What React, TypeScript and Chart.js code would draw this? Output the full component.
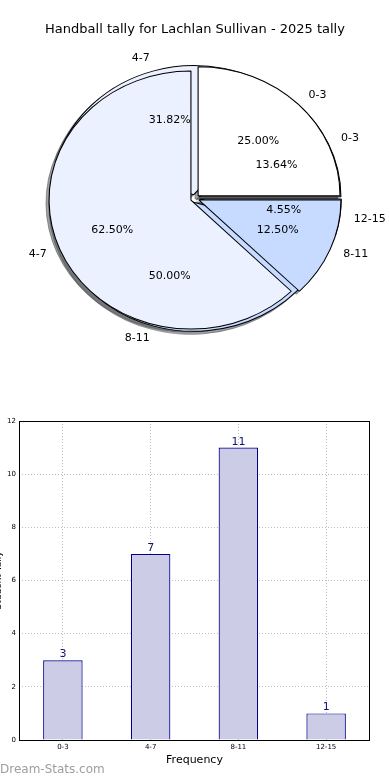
import React, { useEffect, useRef } from 'react';
import { Chart, registerables } from 'chart.js';

Chart.register(...registerables);

// ---------- data ----------
const TITLE = 'Handball tally for Lachlan Sullivan - 2025 tally';
const CATEGORIES = ['0-3', '4-7', '8-11', '12-15'];
const TALLY = [3, 7, 11, 1];
const SECOND_LABELS = ['0-3', '4-7', '8-11'];
const SECOND_PCT = [25.0, 62.5, 12.5];
const SLICE_COLORS = ['#ffffff', '#ebf1ff', '#c6dbff', '#a4c4ff'];
const Y_TICK_MAX = 12;
const Y_TICK_STEP = 2;
const X_TITLE = 'Frequency';
const Y_TITLE = 'Student Tally';
const WATERMARK = 'Dream-Stats.com';

// ---------- style ----------
const FONT = "'DejaVu Sans', sans-serif";
const SX = 1.1; // horizontal stretch of the pie (ellipse)
const RADIUS = 129;
const EXPLODE = 4;
const FAR = 3000;

const rev = <T,>(a: T[]) => a.slice().reverse();

function ellipseTransform(ctx: CanvasRenderingContext2D, el: any) {
  ctx.translate(el.x, el.y);
  ctx.scale(SX, 1);
  ctx.translate(-el.x, -el.y);
}

function drawShadows(ctx: CanvasRenderingContext2D, chart: any) {
  const meta = chart.getDatasetMeta(0);
  meta.data.forEach((el: any) => {
    const mid = (el.startAngle + el.endAngle) / 2;
    ctx.save();
    ctx.translate(-FAR, 0);
    ellipseTransform(ctx, el);
    ctx.translate(Math.cos(mid) * EXPLODE, Math.sin(mid) * EXPLODE);
    ctx.shadowColor = 'rgba(72,74,77,0.5)';
    ctx.shadowOffsetX = FAR - 3;
    ctx.shadowOffsetY = 3;
    ctx.shadowBlur = 0;
    el.draw(ctx);
    ctx.restore();
  });
}

function makePiePlugin(shadowCharts: () => any[]) {
  return {
    id: 'ellipsePie',
    beforeDatasetsDraw(chart: any) {
      shadowCharts().forEach((c) => c && drawShadows(chart.ctx, c));
    },
    beforeDatasetDraw(chart: any, args: any) {
      const ctx = chart.ctx;
      args.meta.data.forEach((el: any) => {
        const mid = (el.startAngle + el.endAngle) / 2;
        ctx.save();
        ellipseTransform(ctx, el);
        ctx.translate(Math.cos(mid) * EXPLODE, Math.sin(mid) * EXPLODE);
        el.draw(ctx);
        ctx.restore();
      });
      return false;
    },
  };
}

function drawPieLabels(ctx: CanvasRenderingContext2D, chart: any) {
  const meta = chart.getDatasetMeta(0);
  const values: number[] = chart.data.datasets[0].data;
  const labels: string[] = chart.data.labels;
  const total = values.reduce((a, b) => a + b, 0);
  ctx.save();
  ctx.font = `11px ${FONT}`;
  ctx.fillStyle = '#000';
  ctx.textBaseline = 'middle';
  meta.data.forEach((el: any, i: number) => {
    const mid = (el.startAngle + el.endAngle) / 2;
    const r = el.outerRadius;
    const c = Math.cos(mid);
    const s = Math.sin(mid);
    const lr = 1.1 * r + EXPLODE;
    ctx.textAlign = c > 0 ? 'left' : 'right';
    ctx.fillText(labels[i], el.x + SX * c * lr, el.y + s * lr);
    const pr = 0.6 * r + EXPLODE;
    ctx.textAlign = 'center';
    ctx.fillText(((values[i] / total) * 100).toFixed(2) + '%', el.x + SX * c * pr, el.y + s * pr);
  });
  ctx.restore();
}

function pieConfig(labels: string[], values: number[], colors: string[], extra: any, plugins: any[]) {
  return {
    type: 'pie',
    data: {
      labels: rev(labels),
      datasets: [
        {
          data: rev(values),
          backgroundColor: rev(colors),
          borderColor: '#000',
          borderWidth: 1,
          radius: RADIUS,
          rotation: 90,
        },
      ],
    },
    options: {
      responsive: false,
      animation: false,
      events: [],
      radius: RADIUS,
      rotation: 90,
      ...extra,
    },
    plugins,
  } as any;
}

export default function App() {
  const pieBackRef = useRef<HTMLCanvasElement>(null);
  const pieFrontRef = useRef<HTMLCanvasElement>(null);
  const barRef = useRef<HTMLCanvasElement>(null);

  useEffect(() => {
    let front: any = null;
    let back: any = null;

    back = new Chart(
      pieBackRef.current!,
      pieConfig(CATEGORIES, TALLY, SLICE_COLORS, {
        layout: { padding: { top: 0, bottom: 3, left: 0, right: 0 } },
        plugins: { legend: { display: false }, tooltip: { enabled: false }, title: { display: false } },
      }, [makePiePlugin(() => [back, front])])
    );

    const labelPlugin = {
      id: 'pieLabels',
      afterDraw(chart: any) {
        if (back) drawPieLabels(chart.ctx, back);
        drawPieLabels(chart.ctx, chart);
      },
    };

    front = new Chart(
      pieFrontRef.current!,
      pieConfig(SECOND_LABELS, SECOND_PCT, SLICE_COLORS.slice(0, 3), {
        layout: { padding: { top: 0, bottom: 40.6, left: 0, right: 0 } },
        plugins: {
          legend: { display: false },
          tooltip: { enabled: false },
          title: {
            display: true,
            text: TITLE,
            color: '#000',
            font: { family: FONT, size: 13, weight: 'normal' },
            padding: { top: 22, bottom: 0 },
          },
        },
      }, [makePiePlugin(() => []), labelPlugin])
    );
    back.draw();

    const barPlugin = {
      id: 'barExtras',
      afterDraw(chart: any) {
        const ctx = chart.ctx;
        const a = chart.chartArea;
        ctx.save();
        ctx.strokeStyle = '#000';
        ctx.lineWidth = 1;
        ctx.strokeRect(Math.round(a.left) + 0.5, Math.round(a.top) + 0.5, Math.round(a.right - a.left) - 1, Math.round(a.bottom - a.top));
        const meta = chart.getDatasetMeta(0);
        const vals: number[] = chart.data.datasets[0].data;
        ctx.font = `11px ${FONT}`;
        ctx.fillStyle = '#10107a';
        ctx.textAlign = 'center';
        ctx.textBaseline = 'alphabetic';
        meta.data.forEach((el: any, i: number) => {
          ctx.fillText(String(vals[i]), el.x, el.y - 3);
        });
        ctx.font = `12px ${FONT}`;
        ctx.fillStyle = '#9e9e9e';
        ctx.textAlign = 'left';
        ctx.textBaseline = 'middle';
        ctx.fillText(WATERMARK, 0, 370);
        ctx.restore();
      },
    };

    const grid = { color: '#bdbdbd', lineWidth: 1, drawTicks: false };
    const bar = new Chart(barRef.current!, {
      type: 'bar',
      data: {
        labels: CATEGORIES,
        datasets: [
          {
            data: TALLY,
            backgroundColor: '#ccccE6',
            borderColor: '#00008b',
            borderWidth: 1.2,
            barPercentage: 0.45,
            categoryPercentage: 1,
          },
        ],
      },
      options: {
        responsive: false,
        animation: false,
        events: [],
        layout: { padding: { left: 0, right: 20, top: 21, bottom: 0 } },
        scales: {
          x: {
            grid: { ...grid, offset: false },
            border: { display: false, dash: [1, 2] },
            ticks: { font: { family: FONT, size: 7 }, color: '#000', padding: 3, maxRotation: 0, autoSkip: false },
            title: { display: true, text: X_TITLE, color: '#000', font: { family: FONT, size: 11 }, padding: { top: 0, bottom: 13 } },
            afterFit(s: any) { s.height = 40; },
          },
          y: {
            min: 0,
            max: Y_TICK_MAX,
            grid,
            border: { display: false, dash: [1, 2] },
            ticks: { stepSize: Y_TICK_STEP, font: { family: FONT, size: 7 }, color: '#000', padding: 3 },
            title: { display: true, text: Y_TITLE, color: '#000', font: { family: FONT, size: 9 }, padding: { top: -6.5, bottom: 0 } },
            afterFit(s: any) { s.width = 19; },
          },
        },
        plugins: { legend: { display: false }, tooltip: { enabled: false } },
      },
      plugins: [barPlugin],
    } as any);

    return () => {
      front.destroy();
      back.destroy();
      bar.destroy();
    };
  }, []);

  return (
    <div style={{ position: 'absolute', left: 0, top: 0, width: 390, height: 780, background: '#fff', overflow: 'hidden' }}>
      <canvas ref={pieBackRef} width={390} height={400} style={{ position: 'absolute', left: 0, top: 0, width: 390, height: 400 }} />
      <canvas ref={pieFrontRef} width={390} height={400} style={{ position: 'absolute', left: 0, top: 0, width: 390, height: 400 }} />
      <canvas ref={barRef} width={390} height={380} style={{ position: 'absolute', left: 0, top: 400, width: 390, height: 380 }} />
    </div>
  );
}
